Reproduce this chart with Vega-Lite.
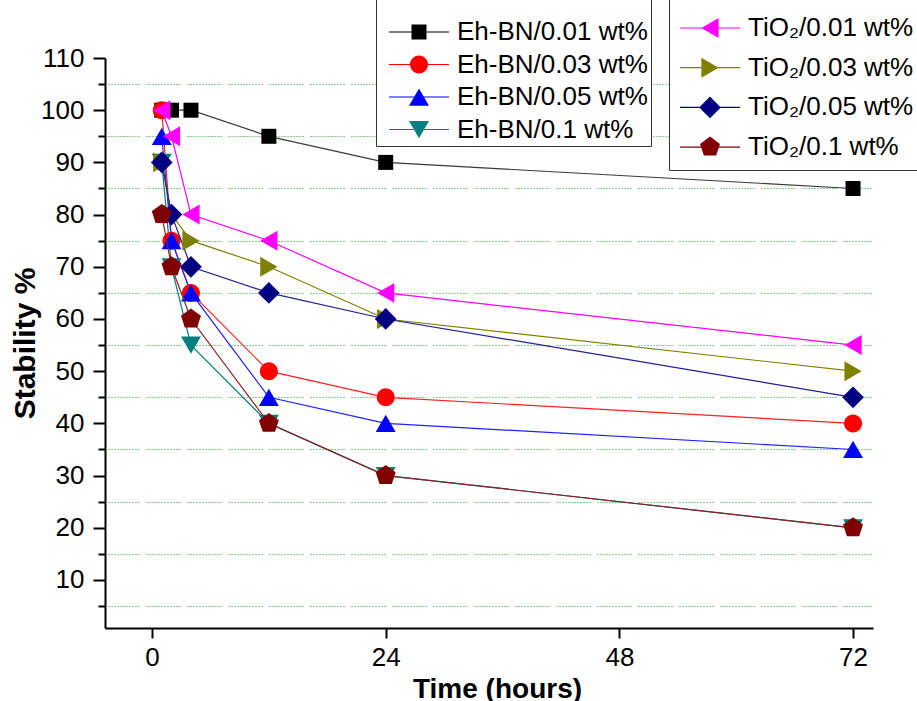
{
  "$schema": "https://vega.github.io/schema/vega-lite/v6.json",
  "width": 768,
  "height": 570,
  "autosize": {"type": "none"},
  "padding": {"left": 105, "top": 58, "right": 44, "bottom": 73},
  "background": "white",
  "config": {"view": {"stroke": null}, "font": "Liberation Sans"},
  "data": {"values": [
    {"s": "Eh-BN/0.01 wt%", "g": "Eh", "t": 1, "v": 100},
    {"s": "Eh-BN/0.01 wt%", "g": "Eh", "t": 2, "v": 100},
    {"s": "Eh-BN/0.01 wt%", "g": "Eh", "t": 4, "v": 100},
    {"s": "Eh-BN/0.01 wt%", "g": "Eh", "t": 12, "v": 95},
    {"s": "Eh-BN/0.01 wt%", "g": "Eh", "t": 24, "v": 90},
    {"s": "Eh-BN/0.01 wt%", "g": "Eh", "t": 72, "v": 85},
    {"s": "Eh-BN/0.03 wt%", "g": "Eh", "t": 1, "v": 100},
    {"s": "Eh-BN/0.03 wt%", "g": "Eh", "t": 2, "v": 75},
    {"s": "Eh-BN/0.03 wt%", "g": "Eh", "t": 4, "v": 65},
    {"s": "Eh-BN/0.03 wt%", "g": "Eh", "t": 12, "v": 50},
    {"s": "Eh-BN/0.03 wt%", "g": "Eh", "t": 24, "v": 45},
    {"s": "Eh-BN/0.03 wt%", "g": "Eh", "t": 72, "v": 40},
    {"s": "Eh-BN/0.05 wt%", "g": "Eh", "t": 1, "v": 95},
    {"s": "Eh-BN/0.05 wt%", "g": "Eh", "t": 2, "v": 75},
    {"s": "Eh-BN/0.05 wt%", "g": "Eh", "t": 4, "v": 65},
    {"s": "Eh-BN/0.05 wt%", "g": "Eh", "t": 12, "v": 45},
    {"s": "Eh-BN/0.05 wt%", "g": "Eh", "t": 24, "v": 40},
    {"s": "Eh-BN/0.05 wt%", "g": "Eh", "t": 72, "v": 35},
    {"s": "Eh-BN/0.1 wt%", "g": "Eh", "t": 1, "v": 90},
    {"s": "Eh-BN/0.1 wt%", "g": "Eh", "t": 2, "v": 70},
    {"s": "Eh-BN/0.1 wt%", "g": "Eh", "t": 4, "v": 55},
    {"s": "Eh-BN/0.1 wt%", "g": "Eh", "t": 12, "v": 40},
    {"s": "Eh-BN/0.1 wt%", "g": "Eh", "t": 24, "v": 30},
    {"s": "Eh-BN/0.1 wt%", "g": "Eh", "t": 72, "v": 20},
    {"s": "TiO₂/0.01 wt%", "g": "Ti", "t": 1, "v": 100},
    {"s": "TiO₂/0.01 wt%", "g": "Ti", "t": 2, "v": 95},
    {"s": "TiO₂/0.01 wt%", "g": "Ti", "t": 4, "v": 80},
    {"s": "TiO₂/0.01 wt%", "g": "Ti", "t": 12, "v": 75},
    {"s": "TiO₂/0.01 wt%", "g": "Ti", "t": 24, "v": 65},
    {"s": "TiO₂/0.01 wt%", "g": "Ti", "t": 72, "v": 55},
    {"s": "TiO₂/0.03 wt%", "g": "Ti", "t": 1, "v": 90},
    {"s": "TiO₂/0.03 wt%", "g": "Ti", "t": 2, "v": 80},
    {"s": "TiO₂/0.03 wt%", "g": "Ti", "t": 4, "v": 75},
    {"s": "TiO₂/0.03 wt%", "g": "Ti", "t": 12, "v": 70},
    {"s": "TiO₂/0.03 wt%", "g": "Ti", "t": 24, "v": 60},
    {"s": "TiO₂/0.03 wt%", "g": "Ti", "t": 72, "v": 50},
    {"s": "TiO₂/0.05 wt%", "g": "Ti", "t": 1, "v": 90},
    {"s": "TiO₂/0.05 wt%", "g": "Ti", "t": 2, "v": 80},
    {"s": "TiO₂/0.05 wt%", "g": "Ti", "t": 4, "v": 70},
    {"s": "TiO₂/0.05 wt%", "g": "Ti", "t": 12, "v": 65},
    {"s": "TiO₂/0.05 wt%", "g": "Ti", "t": 24, "v": 60},
    {"s": "TiO₂/0.05 wt%", "g": "Ti", "t": 72, "v": 45},
    {"s": "TiO₂/0.1 wt%", "g": "Ti", "t": 1, "v": 80},
    {"s": "TiO₂/0.1 wt%", "g": "Ti", "t": 2, "v": 70},
    {"s": "TiO₂/0.1 wt%", "g": "Ti", "t": 4, "v": 60},
    {"s": "TiO₂/0.1 wt%", "g": "Ti", "t": 12, "v": 40},
    {"s": "TiO₂/0.1 wt%", "g": "Ti", "t": 24, "v": 30},
    {"s": "TiO₂/0.1 wt%", "g": "Ti", "t": 72, "v": 20}
  ]},
  "encoding": {
    "x": {
      "field": "t", "type": "quantitative",
      "scale": {"domain": [-4.83, 74.05], "nice": false, "zero": false},
      "axis": {
        "values": [0, 24, 48, 72], "grid": false, "labelFlush": false,
        "domainColor": "black", "domainWidth": 2,
        "tickColor": "black", "tickWidth": 2, "tickSize": 10,
        "labelFont": "Liberation Sans", "labelFontSize": 26, "labelColor": "black", "labelPadding": 6,
        "title": "Time (hours)", "titleFont": "Liberation Sans", "titleFontSize": 28, "titleFontWeight": "bold", "titleColor": "black",
        "titleX": 392, "titleY": 69, "titleBaseline": "alphabetic", "titleAlign": "center"
      }
    },
    "y": {
      "field": "v", "type": "quantitative",
      "scale": {"domain": [0.8, 110], "nice": false, "zero": false},
      "axis": {
        "values": [5, 10, 15, 20, 25, 30, 35, 40, 45, 50, 55, 60, 65, 70, 75, 80, 85, 90, 95, 100, 105, 110],
        "labelExpr": "datum.value % 10 === 0 ? datum.label : ''",
        "labelOverlap": false,
        "grid": true, "gridColor": "#109a10", "gridWidth": 1,
        "gridDash": [1,2,1,2,1,2,1,2,1,2,1,2,1,2,1,2,1,2,1,2,1,2,1,7],
        "gridOpacity": {"condition": {"test": "datum.value % 10 !== 0", "value": 1}, "value": 0},
        "tickSize": {"condition": {"test": "datum.value % 10 === 0", "value": 12}, "value": 7},
        "domainColor": "black", "domainWidth": 2,
        "tickColor": "black", "tickWidth": 2,
        "labelFont": "Liberation Sans", "labelFontSize": 26, "labelColor": "black", "labelPadding": 9,
        "title": "Stability %", "titleFont": "Liberation Sans", "titleFontSize": 30, "titleFontWeight": "bold", "titleColor": "black",
        "titleX": -80, "titleY": 285, "titleAngle": 270, "titleBaseline": "middle", "titleAlign": "center"
      }
    }
  },
  "layer": [
    {
      "transform": [{"filter": "datum.g === 'Eh'"}],
      "layer": [
        {
          "mark": {"type": "line", "strokeWidth": 1.2},
          "encoding": {
            "stroke": {"field": "s", "type": "nominal", "legend": null,
              "scale": {"domain": ["Eh-BN/0.01 wt%", "Eh-BN/0.03 wt%", "Eh-BN/0.05 wt%", "Eh-BN/0.1 wt%"],
                        "range": ["#3a3a3a", "#ff2020", "#2020ff", "#008080"]}}
          }
        },
        {
          "mark": {"type": "point", "filled": true, "size": 225, "opacity": 1, "strokeWidth": 0},
          "encoding": {
            "color": {"field": "s", "type": "nominal", "legend": null,
              "scale": {"domain": ["Eh-BN/0.01 wt%", "Eh-BN/0.03 wt%", "Eh-BN/0.05 wt%", "Eh-BN/0.1 wt%"],
                        "range": ["#000000", "#ff0000", "#0000ff", "#008080"]}},
            "shape": {"field": "s", "type": "nominal", "legend": null,
              "scale": {"domain": ["Eh-BN/0.01 wt%", "Eh-BN/0.03 wt%", "Eh-BN/0.05 wt%", "Eh-BN/0.1 wt%"],
                        "range": ["M-1,-1H1V1H-1Z", "M-1.2,0A1.2,1.2,0,1,1,1.2,0A1.2,1.2,0,1,1,-1.2,0Z", "M0,-1.15L1.33,1.15H-1.33Z", "M-1.33,-1.15H1.33L0,1.15Z"]}}
          }
        },
        {
          "mark": {"type": "point", "filled": true, "size": 225, "opacity": 0},
          "encoding": {
            "color": {"field": "s", "type": "nominal",
              "scale": {"domain": ["Eh-BN/0.01 wt%", "Eh-BN/0.03 wt%", "Eh-BN/0.05 wt%", "Eh-BN/0.1 wt%"],
                        "range": ["#000000", "#ff0000", "#0000ff", "#008080"]},
              "legend": {
                "orient": "none", "legendX": 271, "legendY": -82,
                "title": ".", "titleFontSize": 20, "titlePadding": 20, "titleOpacity": 0,
                "labelFont": "Liberation Sans", "labelFontSize": 26, "labelColor": "black", "labelLimit": 400,
                "symbolSize": 225, "symbolOffset": 27, "labelOffset": 25, "rowPadding": 6.5, "padding": 3,
                "symbolOpacity": 1, "symbolStrokeWidth": 0,
                "fillColor": "white", "strokeColor": "#333333"
              }
            },
            "shape": {"field": "s", "type": "nominal",
              "scale": {"domain": ["Eh-BN/0.01 wt%", "Eh-BN/0.03 wt%", "Eh-BN/0.05 wt%", "Eh-BN/0.1 wt%"],
                        "range": ["M-4,-0.08H4V0.08H-4ZM-1,-1H1V1H-1Z", "M-4,-0.08H4V0.08H-4ZM-1.2,0A1.2,1.2,0,1,1,1.2,0A1.2,1.2,0,1,1,-1.2,0Z", "M-4,-0.08H4V0.08H-4ZM0,-1.15L1.33,1.15H-1.33Z", "M-4,-0.08H4V0.08H-4ZM-1.33,-1.15H1.33L0,1.15Z"]},
              "legend": {
                "orient": "none", "legendX": 271, "legendY": -82,
                "title": ".", "titleFontSize": 20, "titlePadding": 20, "titleOpacity": 0,
                "labelFont": "Liberation Sans", "labelFontSize": 26, "labelColor": "black", "labelLimit": 400,
                "symbolSize": 225, "symbolOffset": 27, "labelOffset": 25, "rowPadding": 6.5, "padding": 3,
                "symbolOpacity": 1, "symbolStrokeWidth": 0,
                "fillColor": "white", "strokeColor": "#333333"
              }
            }
          }
        }
      ],
      "resolve": {"scale": {"color": "independent", "shape": "independent"}}
    },
    {
      "transform": [{"filter": "datum.g === 'Ti'"}],
      "layer": [
        {
          "mark": {"type": "line", "strokeWidth": 1.2},
          "encoding": {
            "stroke": {"field": "s", "type": "nominal", "legend": null,
              "scale": {"domain": ["TiO₂/0.01 wt%", "TiO₂/0.03 wt%", "TiO₂/0.05 wt%", "TiO₂/0.1 wt%"],
                        "range": ["#ff00ff", "#808000", "#202090", "#902020"]}}
          }
        },
        {
          "mark": {"type": "point", "filled": true, "size": 225, "opacity": 1, "strokeWidth": 0},
          "encoding": {
            "color": {"field": "s", "type": "nominal", "legend": null,
              "scale": {"domain": ["TiO₂/0.01 wt%", "TiO₂/0.03 wt%", "TiO₂/0.05 wt%", "TiO₂/0.1 wt%"],
                        "range": ["#ff00ff", "#808000", "#000080", "#800000"]}},
            "shape": {"field": "s", "type": "nominal", "legend": null,
              "scale": {"domain": ["TiO₂/0.01 wt%", "TiO₂/0.03 wt%", "TiO₂/0.05 wt%", "TiO₂/0.1 wt%"],
                        "range": ["M-1.15,0L1.15,-1.33V1.33Z", "M1.15,0L-1.15,1.33V-1.33Z", "M0,-1.45L1.45,0L0,1.45L-1.45,0Z", "M0,-1.4L1.33,-0.43L0.82,1.13L-0.82,1.13L-1.33,-0.43Z"]}}
          }
        },
        {
          "mark": {"type": "point", "filled": true, "size": 225, "opacity": 0},
          "encoding": {
            "color": {"field": "s", "type": "nominal",
              "scale": {"domain": ["TiO₂/0.01 wt%", "TiO₂/0.03 wt%", "TiO₂/0.05 wt%", "TiO₂/0.1 wt%"],
                        "range": ["#ff00ff", "#808000", "#000080", "#800000"]},
              "legend": {
                "orient": "none", "legendX": 564, "legendY": -92,
                "title": ".", "titleFontSize": 20, "titlePadding": 20, "titleOpacity": 0,
                "labelFont": "Liberation Sans", "labelFontSize": 26, "labelColor": "black", "labelLimit": 400,
                "symbolSize": 225, "symbolOffset": 19, "labelOffset": 25, "rowPadding": 13.7, "padding": 9,
                "symbolOpacity": 1, "symbolStrokeWidth": 0,
                "fillColor": "white", "strokeColor": "#333333"
              }
            },
            "shape": {"field": "s", "type": "nominal",
              "scale": {"domain": ["TiO₂/0.01 wt%", "TiO₂/0.03 wt%", "TiO₂/0.05 wt%", "TiO₂/0.1 wt%"],
                        "range": ["M-4,-0.08H4V0.08H-4ZM-1.15,0L1.15,-1.33V1.33Z", "M-4,-0.08H4V0.08H-4ZM1.15,0L-1.15,1.33V-1.33Z", "M-4,-0.08H4V0.08H-4ZM0,-1.45L1.45,0L0,1.45L-1.45,0Z", "M-4,-0.08H4V0.08H-4ZM0,-1.4L1.33,-0.43L0.82,1.13L-0.82,1.13L-1.33,-0.43Z"]},
              "legend": {
                "orient": "none", "legendX": 564, "legendY": -92,
                "title": ".", "titleFontSize": 20, "titlePadding": 20, "titleOpacity": 0,
                "labelFont": "Liberation Sans", "labelFontSize": 26, "labelColor": "black", "labelLimit": 400,
                "symbolSize": 225, "symbolOffset": 19, "labelOffset": 25, "rowPadding": 13.7, "padding": 9,
                "symbolOpacity": 1, "symbolStrokeWidth": 0,
                "fillColor": "white", "strokeColor": "#333333"
              }
            }
          }
        }
      ],
      "resolve": {"scale": {"color": "independent", "shape": "independent"}}
    }
  ],
  "resolve": {"scale": {"color": "independent", "shape": "independent", "stroke": "independent"}}
}
